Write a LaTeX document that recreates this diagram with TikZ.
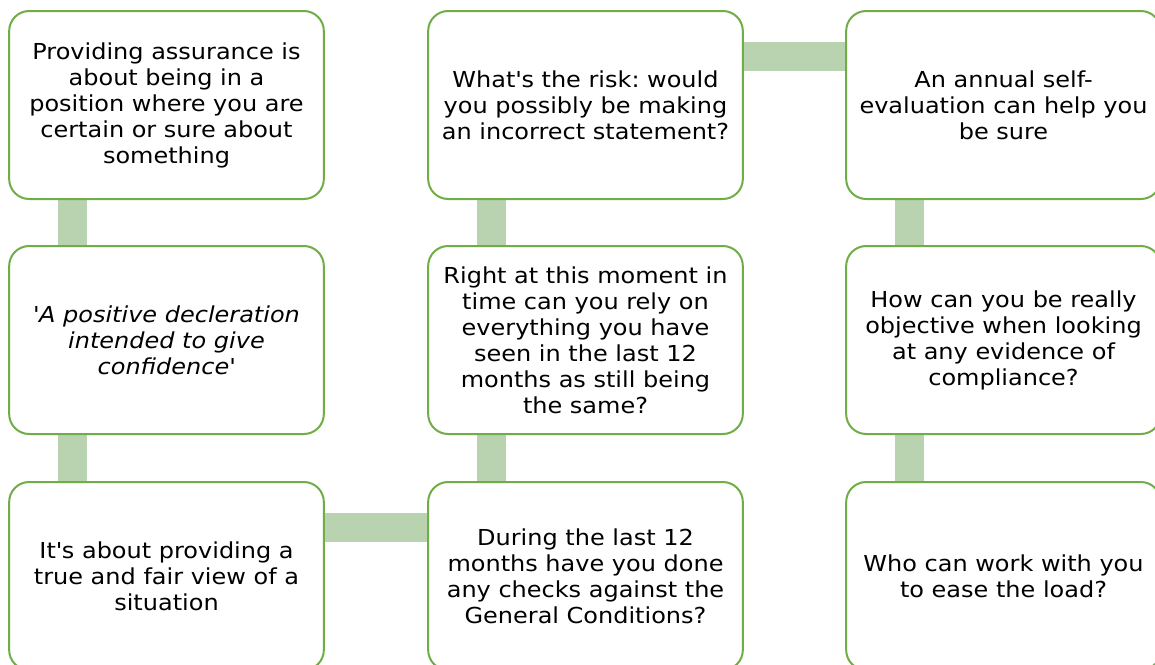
\documentclass[tikz,border=0pt]{standalone}
\usepackage{fontspec}
\setmainfont{DejaVu Sans}[FakeStretch=1.09]
\usetikzlibrary{calc,backgrounds}
\frenchspacing

\definecolor{boxgreen}{RGB}{112,173,71}
\definecolor{linkgreen}{RGB}{185,211,176}

\tikzset{
  stepbox/.style={draw=boxgreen, line width=1.5pt, rounded corners=15pt, fill=white,
    minimum width=236pt, minimum height=141pt, align=center, inner sep=0pt,
    font=\fontsize{16.5}{19.5}\selectfont},
  link/.style={draw=linkgreen, line width=21.75pt}
}

\begin{document}
\begin{tikzpicture}[x=0.75pt,y=0.75pt,yscale=-1,xscale=1]
		\useasboundingbox (0,0) rectangle (1155,664);
		% first column
		\node[stepbox] (assure) at (166.5,105) {Providing assurance is\\about being in a\\position where you are\\certain or sure about\\something};
		\node[stepbox] (declare) at (166.5,340) {\itshape \textquotesingle A positive decleration\\\itshape intended to give\\\itshape confidence\textquotesingle};
		\node[stepbox] (fairview) at (166.5,576) {It\textquotesingle s about providing a\\true and fair view of a\\situation};
		% second column
		\node[stepbox] (checks) at (585.5,576) {During the last 12\\months have you done\\any checks against the\\General Conditions?};
		\node[stepbox] (rely) at (585.5,340) {Right at this moment in\\time can you rely on\\everything you have\\seen in the last 12\\months as still being\\the same?};
		\node[stepbox] (risk) at (585.5,105) {What\textquotesingle s the risk: would\\you possibly be making\\an incorrect statement?};
		% third column
		\node[stepbox] (selfeval) at (1003.5,105) {An annual self-\\evaluation can help you\\be sure};
		\node[stepbox] (objective) at (1003.5,340) {How can you be really\\objective when looking\\at any evidence of\\compliance?};
		\node[stepbox] (ease) at (1003.5,576) {Who can work with you\\to ease the load?};
		\begin{scope}[on background layer]
		\draw[link] ($(assure.south west)+(64.5,0)$) -- ($(declare.north west)+(64.5,0)$);
		\draw[link] ($(declare.south west)+(64.5,0)$) -- ($(fairview.north west)+(64.5,0)$);
		\draw[link] ($(fairview.north east)+(0,46.5)$) -- ($(checks.north west)+(0,46.5)$);
		\draw[link] ($(checks.north west)+(64.5,0)$) -- ($(rely.south west)+(64.5,0)$);
		\draw[link] ($(rely.north west)+(64.5,0)$) -- ($(risk.south west)+(64.5,0)$);
		\draw[link] ($(risk.north east)+(0,46.5)$) -- ($(selfeval.north west)+(0,46.5)$);
		\draw[link] ($(selfeval.south west)+(64.5,0)$) -- ($(objective.north west)+(64.5,0)$);
		\draw[link] ($(objective.south west)+(64.5,0)$) -- ($(ease.north west)+(64.5,0)$);
		\end{scope}
\end{tikzpicture}
\end{document}
